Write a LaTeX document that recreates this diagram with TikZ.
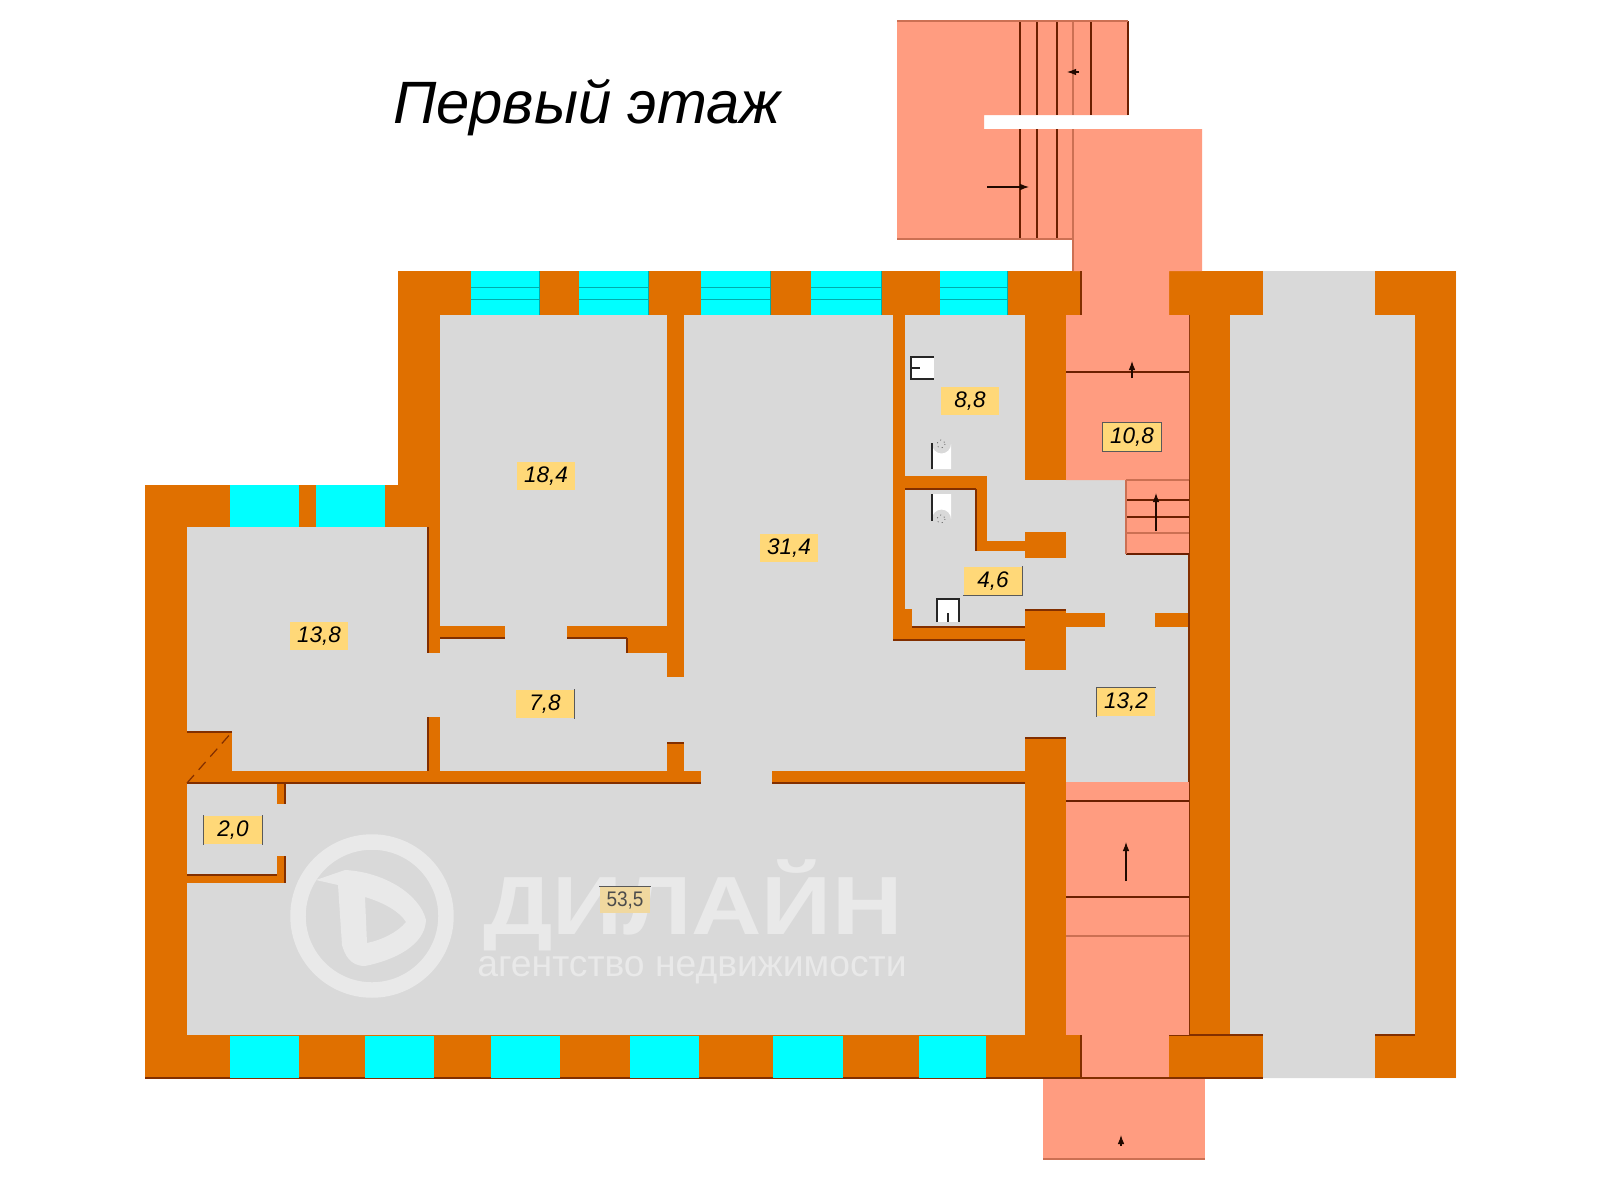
\documentclass[tikz,border=0pt]{standalone}
\usepackage{fontspec}
\setmainfont{Liberation Sans}
\usepackage{graphicx}
\usetikzlibrary{arrows.meta}

\definecolor{wallcol}{HTML}{E07000}
\definecolor{floorcol}{HTML}{D9D9D9}
\definecolor{stepcol}{HTML}{FF9C80}
\definecolor{glasscol}{HTML}{00FFFF}
\definecolor{edgecol}{HTML}{6B1F00}
\definecolor{areacol}{HTML}{FFD878}
\definecolor{markcol}{HTML}{E9E9E9}

\newcommand{\pxu}{*0.01cm}
\tikzset{
  wall/.style={fill=wallcol},
  flight/.style={fill=stepcol},
  glass/.style={fill=glasscol},
  shadowline/.style={draw=edgecol!80!wallcol,line width=0.35pt},
  faint/.style={draw=edgecol!35!stepcol,line width=0.3pt},
  tread/.style={draw=edgecol,line width=0.38pt},
  pane/.style={draw=teal!65!glasscol,line width=0.28pt},
  rise/.style={draw=black!70!edgecol,line width=0.3pt,-{Latex[length=2.6pt,width=1.9pt]}},
  fixture/.style={fill=white},
  fixline/.style={draw=black!85,line width=0.4pt},
  roomarea/.style={fill=areacol,inner sep=0pt,minimum width=58\pxu,minimum height=28\pxu,font=\fontsize{6.4}{7}\selectfont\itshape},
  areaedge/.style={draw=black!65,line width=0.3pt},
  logotext/.style={text=markcol,inner sep=0pt}
}

\begin{document}
\begin{tikzpicture}[x=0.01cm,y=-0.01cm]
\useasboundingbox (0,0) rectangle (1600,1200);
\fill[white] (0,0) rectangle (1600,1200);

\fill[floorcol] (145,485) -- (398,485) -- (398,271) -- (1456,271) -- (1456,1078) -- (145,1078) -- cycle;

% walls
\foreach \xa/\ya/\xb/\yb in {398/271/1081/315, 1169/271/1263/315, 1375/271/1456/315,
  1415/315/1456/1078, 145/1035/1081/1078, 1169/1035/1263/1078, 1375/1035/1456/1078,
  1189/315/1230/1035, 145/485/187/1035, 145/485/440/527, 398/315/440/527,
  428/527/440/653, 440/626/505/638, 567/626/667/638, 627/638/667/653, 667/315/684/677,
  428/717/440/771, 667/743/684/771, 187/771/701/783, 772/771/1025/783, 187/732/232/771,
  277/783/285/804, 277/856/285/883, 187/875/285/883,
  893/315/905/627, 893/609/912/627, 893/627/1025/640, 893/476/987/489, 976/489/987/551,
  976/541/1025/551, 1025/532/1066/558, 1025/610/1066/670, 1066/613/1105/627,
  1155/613/1189/627, 1025/738/1066/1035, 1025/315/1066/480}
  \fill[wall] (\xa,\ya) rectangle (\xb,\yb);
\draw[shadowline,densely dashed] (187,783) -- (232,732);

% wall shadows
\foreach \xa/\ya/\xb/\yb in {145/1078/1263/1078, 187/783/701/783, 772/783/1025/783,
  1025/738/1066/738, 893/640/1025/640, 912/627/1025/627, 905/489/976/489, 976/489/976/551,
  187/875/277/875, 285/783/285/804, 285/856/285/883, 428/527/428/653, 428/717/428/771,
  440/638/505/638, 567/638/627/638, 627/638/627/653, 667/743/684/743, 232/732/187/732,
  1025/610/1066/610, 1189/315/1189/1035, 1263/1035/1169/1035, 1375/1035/1415/1035}
  \draw[shadowline] (\xa,\ya) -- (\xb,\yb);

% windows
\foreach \xa/\xb in {471/539, 579/648, 701/770, 811/881, 940/1007} {
  \fill[glass] (\xa,271) rectangle (\xb,315);
  \draw[pane] (\xa,287) -- (\xb,287) (\xa,299) -- (\xb,299) (\xb,271) -- (\xb,315);
}
\foreach \xa/\xb in {230/299, 316/385}
  \fill[glass] (\xa,485) rectangle (\xb,527);
\foreach \xa/\xb in {230/299, 365/434, 491/560, 630/699, 773/843, 919/986}
  \fill[glass] (\xa,1036) rectangle (\xb,1078);

% stairs
\fill[flight] (897,21) -- (1128,21) -- (1128,115) -- (984,115) -- (984,129) -- (1202,129)
  -- (1202,271) -- (1169,271) -- (1169,315) -- (1189,315) -- (1189,480) -- (1066,480)
  -- (1066,315) -- (1081,315) -- (1081,271) -- (1073,271) -- (1073,239) -- (897,239) -- cycle;
\fill[flight] (1126,480) rectangle (1189,554);
\fill[flight] (1066,782) rectangle (1189,1035);
\fill[flight] (1081,1035) rectangle (1169,1078);
\fill[flight] (1043,1078) rectangle (1205,1159);

\foreach \x in {1020,1037,1057,1091,1128}
  \draw[tread] (\x,21) -- (\x,115);
\foreach \x in {1020,1037,1057}
  \draw[tread] (\x,129) -- (\x,239);
\draw[faint] (1073,21) -- (1073,115) (1073,129) -- (1073,271);
\draw[faint] (897,21) -- (1128,21) (897,239) -- (1073,239) (1043,1159) -- (1205,1159);
\draw[shadowline] (1081,271) -- (1081,315) (1081,1035) -- (1081,1078);
\draw[tread] (1066,372) -- (1189,372) (1126,500) -- (1189,500) (1126,517) -- (1189,517) (1126,554) -- (1189,554);
\draw[faint] (1126,480) -- (1189,480) (1126,533) -- (1189,533) (1126,480) -- (1126,554);
\draw[tread] (1066,801) -- (1189,801) (1066,897) -- (1189,897);
\draw[faint] (1066,936) -- (1189,936);
\draw[shadowline] (1043,1078) -- (1263,1078);

\draw[rise] (1079,72) -- (1067,72);
\draw[rise] (987,187) -- (1029,187);
\draw[rise] (1132,378) -- (1132,361);
\draw[rise] (1156,531) -- (1156,493);
\draw[rise] (1126,881) -- (1126,842);
\draw[rise] (1121,1146) -- (1121,1135);

% fixtures
\fill[fixture] (911,357) rectangle (934,379);
\draw[fixline] (934,357) -- (911,357) -- (911,379) -- (934,379) (911,368) -- (920,368);
\fill[fixture] (932,469) -- (932,444) arc[start angle=180,end angle=0,radius=9.5] -- (951,469) -- cycle;
\draw[fixline] (932,443) -- (932,469);
\draw[black!60,line width=0.25pt,densely dotted] (941,444) circle[radius=4];
\fill[fixture] (932,494) -- (932,519) arc[start angle=180,end angle=360,radius=9.5] -- (951,494) -- cycle;
\draw[fixline] (932,494) -- (932,521);
\draw[black!60,line width=0.25pt,densely dotted] (941,519) circle[radius=4];
\fill[fixture] (937,599) rectangle (959,622);
\draw[fixline] (937,622) -- (937,599) -- (959,599) -- (959,622) (948,613) -- (948,622);

% watermark
\draw[markcol,line width=4.4pt] (372,916) circle[radius=74];
\fill[markcol,even odd rule] (316,880) -- (345,870) .. controls (385,872) and (420,895) .. (426,920)
  .. controls (425,945) and (395,960) .. (365,966) .. controls (350,966) and (345,955) .. (342,945)
  -- (338,885) -- cycle (365,897) .. controls (385,903) and (400,912) .. (406,922) .. controls (398,932) and (382,940) .. (367,943) -- cycle;
\node[logotext,anchor=base] (brand) at (693,934) {\fontsize{23.5}{27}\selectfont\bfseries\scalebox{1.18}[1]{ДИЛАЙН}};
\node[logotext,anchor=base] (agency) at (692,976) {\fontsize{10.6}{12}\selectfont\scalebox{1}[1]{агентство недвижимости}};

% room areas
\node[roomarea] (r184) at (546,476) {18,4};
\node[roomarea] (r314) at (789,548) {31,4};
\node[roomarea] (r88) at (970,401) {8,8};
\node[roomarea] (r108) at (1132,437) {10,8};
\node[roomarea] (r46) at (993,581) {4,6};
\node[roomarea] (r132) at (1126,702) {13,2};
\node[roomarea] (r78) at (545,704) {7,8};
\node[roomarea] (r138) at (319,636) {13,8};
\node[roomarea] (r20) at (233,830) {2,0};
\node[roomarea,minimum width=50\pxu,minimum height=26\pxu,font=\fontsize{6}{7}\selectfont,text=black!70,fill=areacol!60!floorcol] (r535) at (625,900) {\scalebox{0.9}[1]{53,5}};

\draw[areaedge] (r108.north west) rectangle (r108.south east);
\draw[areaedge] (r46.north east) -- (r46.south east) -- (r46.south west);
\draw[areaedge] (r132.south west) -- (r132.north west) -- (r132.north east);
\draw[areaedge] (r78.north east) -- (r78.south east);
\draw[areaedge] (r20.north west) -- (r20.south west) (r20.north east) -- (r20.south east);
\draw[areaedge] (r535.north west) -- (r535.north east);

\node[inner sep=0pt,anchor=base] (title) at (587,123) {\fontsize{17}{20}\selectfont\itshape Первый этаж};

\end{tikzpicture}
\end{document}
